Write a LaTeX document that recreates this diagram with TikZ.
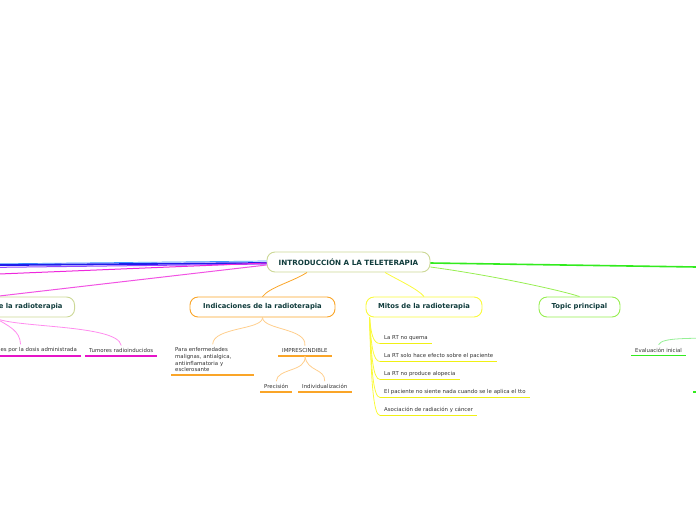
\documentclass[tikz,border=0pt]{standalone}
\usepackage{fontspec}
\setmainfont{DejaVu Sans}
\definecolor{olivebd}{RGB}{204,216,150}
\definecolor{orangebd}{RGB}{250,165,40}
\definecolor{orangelt}{RGB}{255,206,140}
\definecolor{yellowbd}{RGB}{250,250,60}
\definecolor{yellowul}{RGB}{240,240,20}
\definecolor{topicgreen}{RGB}{150,238,80}
\definecolor{brightgreen}{RGB}{50,235,30}
\definecolor{lightgreen}{RGB}{150,240,150}
\definecolor{pinkln}{RGB}{255,140,238}
\definecolor{magln}{RGB}{238,40,220}
\definecolor{magul}{RGB}{230,20,200}
\definecolor{bluethick}{RGB}{30,30,235}
\definecolor{bluelt}{RGB}{60,150,255}
\definecolor{violetln}{RGB}{150,70,255}
\definecolor{txtmain}{RGB}{16,60,60}
\definecolor{txtleaf}{RGB}{50,50,50}
\begin{document}
\begin{tikzpicture}[x=1pt,y=-1pt,
  topicbox/.style={draw, line width=0.9pt, rounded corners=8pt, fill=white,
    minimum height=20pt, inner xsep=6pt, text=txtmain,
    font=\fontsize{6.8}{8}\selectfont\bfseries},
  leaf/.style={font=\fontsize{5.4}{6.7}\selectfont, text=txtleaf,
    inner xsep=4pt, inner ysep=3pt},
  uline/.style={line width=1.5pt},
  conn/.style={line width=0.8pt}]
\useasboundingbox (0,0) rectangle (696,520);
\clip (0,0) rectangle (696,520);

% off-picture ends of connectors
\coordinate (offA) at (-30,264.1);
\coordinate (offB) at (-30,265.3);
\coordinate (offC) at (-30,267.7);
\coordinate (offD) at (-30,275.2);
\coordinate (offR) at (730,267.5);
\coordinate (offE) at (720,337.5);
\coordinate (gm) at (693,392);

% main nodes
\node[topicbox, draw=olivebd, minimum width=163pt, font=\fontsize{7.2}{8}\selectfont\bfseries] (root) at (348.5,262) {INTRODUCCIÓN A LA TELETERAPIA};
\node[topicbox, draw=olivebd, anchor=east, inner xsep=12pt] (efe) at (75,307) {Efectos adversos de la radioterapia};
\node[topicbox, draw=orangebd, minimum width=145pt] (ind) at (262.5,307) {Indicaciones de la radioterapia};
\node[topicbox, draw=yellowbd, minimum width=116pt] (mit) at (424,307) {Mitos de la radioterapia};
\node[topicbox, draw=topicgreen, minimum width=81pt] (top) at (579.5,307) {Topic principal};

% leaves
\node[leaf, anchor=south east] (les) at (81,356) {Complicaciones por la dosis administrada};
\node[leaf, anchor=south west] (tum) at (85,356) {Tumores radioinducidos};
\node[leaf, anchor=south west, text width=75pt, align=left] (para) at (171,375) {Para enfermedades\\malignas, antialgica,\\antiinflamatoria y\\esclerosante};
\node[leaf, anchor=south west] (imp) at (278,356) {IMPRESCINDIBLE};
\node[leaf, anchor=south west, inner xsep=4pt] (pre) at (260,392) {Precisión};
\node[leaf, anchor=south west] (indv) at (298,392) {Individualización};
\node[leaf, anchor=south west] (m1) at (380,343.5) {La RT no quema};
\node[leaf, anchor=south west] (m2) at (380,361.5) {La RT solo hace efecto sobre el paciente};
\node[leaf, anchor=south west] (m3) at (380,379.5) {La RT no produce alopecia};
\node[leaf, anchor=south west] (m4) at (380,397.5) {El paciente no siente nada cuando se le aplica el tto};
\node[leaf, anchor=south west] (m5) at (380,415.5) {Asociación de radiación y cáncer};
\node[leaf, anchor=south west] (ev) at (631,355.5) {Evaluación inicial};

% underlines
\draw[uline, draw=magul] (les.south west) -- (les.south east);
\draw[uline, draw=magul] (tum.south west) -- (tum.south east);
\draw[uline, draw=orangebd] (para.south west) -- (para.south east);
\draw[uline, draw=orangebd] (imp.south west) -- (imp.south east);
\draw[uline, draw=orangebd] (pre.south west) -- (pre.south east);
\draw[uline, draw=orangebd] (indv.south west) -- (indv.south east);
\draw[uline, draw=yellowul] (m1.south west) -- (m1.south east);
\draw[uline, draw=yellowul] (m2.south west) -- (m2.south east);
\draw[uline, draw=yellowul] (m3.south west) -- (m3.south east);
\draw[uline, draw=yellowul] (m4.south west) -- (m4.south east);
\draw[uline, draw=yellowul] (m5.south west) -- (m5.south east);
\draw[uline, draw=brightgreen] (ev.south west) -- (ev.south east);
\draw[uline, draw=brightgreen] (gm) -- ++(12,0);

% connectors from the root
\draw[line width=0.7pt, bluelt] ([yshift=1pt]root.west) -- (offA);
\draw[line width=1.8pt, bluethick] ([yshift=-1pt]root.west) -- (offB);
\draw[line width=1pt, violetln] ([yshift=-2pt]root.west) -- (offC);
\draw[line width=1pt, magln] ([yshift=-1pt]root.west) -- (offD);
\draw[line width=1pt, magln!80!white] ([yshift=-3pt]root.west) -- (efe.north);
\draw[line width=1.6pt, brightgreen] ([yshift=-1pt]root.east) -- (offR);
\draw[conn, topicgreen] ([yshift=-5pt]root.east) .. controls (490,275) and (560,290) .. (top.north);
\draw[conn, orangebd] ([xshift=-41.5pt]root.south) .. controls (292,282) and (270,287) .. (ind.north);
\draw[conn, yellowbd] ([xshift=36.5pt]root.south) .. controls (398,280) and (418,289) .. (mit.north);

% sub connectors
\draw[conn, pinkln] (efe.south) .. controls (8,326) and (20,330) .. (les.north);
\draw[conn, pinkln] (efe.south) .. controls (10,328) and (118,324) .. (tum.north);
\draw[conn, orangelt] (ind.south) .. controls (263,330) and (213,327) .. (para.north);
\draw[conn, orangelt] (ind.south) .. controls (263,330) and (307,328) .. (imp.north);
\draw[conn, orangelt] (imp.south) .. controls (307,372) and (277,368) .. (pre.north);
\draw[conn, orangelt] (imp.south) .. controls (307,372) and (325,368) .. (indv.north);
\foreach \n/\y in {m1/343.5,m2/361.5,m3/379.5,m4/397.5,m5/415.5}
  \draw[conn, yellowbd] ([xshift=4pt]mit.south west) .. controls (371,{318+0.6*(\y-318)}) and (373,\y) .. (\n.south west);
\draw[conn, lightgreen] (offE) .. controls (690,339) and (662,337) .. (ev.north);
\end{tikzpicture}
\end{document}
